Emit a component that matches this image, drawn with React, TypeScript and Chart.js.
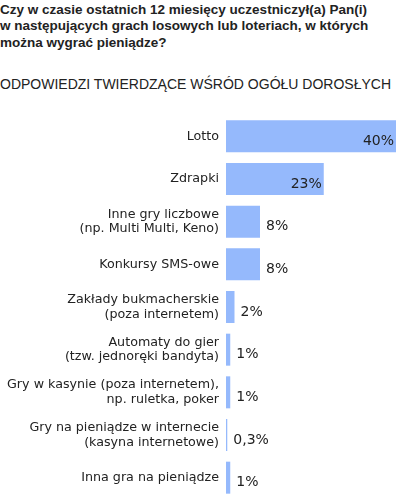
import React, { useRef, useEffect } from 'react';
import { Chart, registerables } from 'chart.js';

Chart.register(...registerables);

const categories: string[][] = [
  ['Lotto'],
  ['Zdrapki'],
  ['Inne gry liczbowe', '(np. Multi Multi, Keno)'],
  ['Konkursy SMS-owe'],
  ['Zakłady bukmacherskie', '(poza internetem)'],
  ['Automaty do gier', '(tzw. jednoręki bandyta)'],
  ['Gry w kasynie (poza internetem),', 'np. ruletka, poker'],
  ['Gry na pieniądze w internecie', '(kasyna internetowe)'],
  ['Inna gra na pieniądze'],
];
const values = [40, 23, 8, 8, 2, 1, 1, 0.3, 1];
const valueLabels = ['40%', '23%', '8%', '8%', '2%', '1%', '1%', '0,3%', '1%'];

const BAR_COLOR = '#95b9fc';
const TEXT_COLOR = '#222';

const valueLabelPlugin = {
  id: 'valueLabels',
  afterDatasetsDraw(chart: any) {
    const ctx = chart.ctx;
    const meta = chart.getDatasetMeta(0);
    ctx.save();
    ctx.font = '14px "DejaVu Sans", Verdana, sans-serif';
    ctx.fillStyle = TEXT_COLOR;
    ctx.textBaseline = 'alphabetic';
    meta.data.forEach((bar: any, i: number) => {
      const inside = values[i] >= 20;
      ctx.textAlign = inside ? 'right' : 'left';
      const x = inside ? bar.x - 2 : bar.x + 6;
      ctx.fillText(valueLabels[i], x, bar.y + 8.5);
    });
    ctx.restore();
  },
};

const GamblingChart = () => {
  const canvasRef = useRef<HTMLCanvasElement>(null);

  useEffect(() => {
    const ctx = canvasRef.current?.getContext('2d');
    if (!ctx) return;

    const chart = new Chart(ctx, {
      type: 'bar',
      data: {
        labels: categories,
        datasets: [
          {
            data: values,
            backgroundColor: BAR_COLOR,
            borderWidth: 0,
            categoryPercentage: 1,
            barPercentage: 0.75,
          },
        ],
      },
      options: {
        indexAxis: 'y',
        animation: false,
        responsive: true,
        maintainAspectRatio: false,
        layout: { padding: { top: 5, bottom: 1, right: 6, left: 0 } },
        plugins: {
          legend: { display: false },
          tooltip: { enabled: false },
        },
        scales: {
          x: { display: false, min: 0, max: 40 },
          y: {
            border: { display: false },
            grid: { display: false, drawTicks: false },
            ticks: {
              color: TEXT_COLOR,
              padding: 7,
              font: { family: '"DejaVu Sans", Verdana, sans-serif', size: 12.7, lineHeight: '14.6px' },
            },
            afterFit: (scale: any) => {
              scale.width = 226;
              scale.paddingTop = 0;
              scale.paddingBottom = 0;
            },
          },
        },
      },
      plugins: [valueLabelPlugin],
    });

    return () => chart.destroy();
  }, []);

  return <canvas ref={canvasRef} />;
};

export default function App() {
  const textFont = '"Liberation Sans", Arial, sans-serif';
  return (
    <div style={{ position: 'absolute', left: 0, top: 0, width: 402, height: 495, overflow: 'hidden', background: '#fff' }}>
      <div
        style={{
          position: 'absolute',
          left: 0,
          top: 1.5,
          width: 402,
          whiteSpace: 'nowrap',
          font: `bold 13.5px/16.7px ${textFont}`,
          color: TEXT_COLOR,
        }}
      >
        Czy w czasie ostatnich 12 miesięcy uczestniczył(a) Pan(i)
        <br />
        w następujących grach losowych lub loteriach, w których
        <br />
        można wygrać pieniądze?
      </div>
      <div
        style={{
          position: 'absolute',
          left: 0,
          top: 75.5,
          width: 402,
          whiteSpace: 'nowrap',
          font: `14px/16.7px ${textFont}`,
          color: TEXT_COLOR,
        }}
      >
        ODPOWIEDZI TWIERDZĄCE WŚRÓD OGÓŁU DOROSŁYCH
      </div>
      <div style={{ position: 'absolute', left: 0, top: 110, width: 402, height: 390 }}>
        <GamblingChart />
      </div>
    </div>
  );
}
